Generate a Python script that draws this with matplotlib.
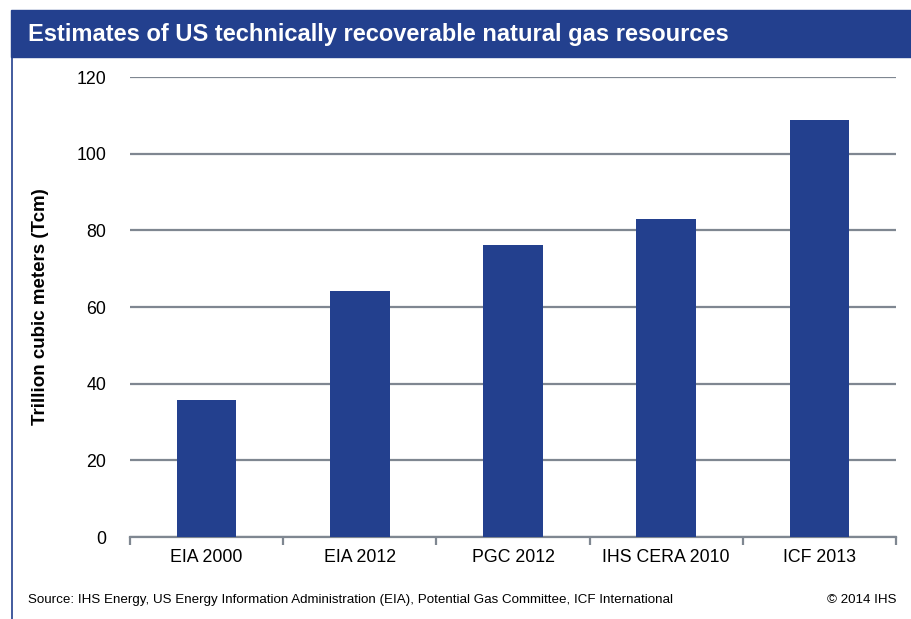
import numpy as np
import matplotlib.pyplot as plt
from matplotlib.patches import Rectangle
from matplotlib.lines import Line2D

plt.rcParams['font.family'] = ['Liberation Sans', 'DejaVu Sans']

categories = ['EIA 2000', 'EIA 2012', 'PGC 2012', 'IHS CERA 2010', 'ICF 2013']
values = [35.7, 64.3, 76.2, 83.0, 108.8]
yticks = [0, 20, 40, 60, 80, 100, 120]

blue = '#23408e'
grid = '#7f8791'

fig = plt.figure(figsize=(9.12, 6.19), dpi=100)
ax = fig.add_axes([130 / 912, 1 - 537 / 619, 766 / 912, 460 / 619])

x = np.arange(len(categories))
ax.bar(x, values, width=0.39, color=blue, zorder=3)
ax.set_xlim(-0.5, len(categories) - 0.5)
ax.set_ylim(0, 120)
ax.set_yticks(yticks)
ax.yaxis.grid(True, color=grid, linewidth=1.6, zorder=0)
ax.tick_params(axis='y', length=0, pad=17, labelsize=12.8)
ax.set_xticks(x)
ax.set_xticklabels(categories)
ax.set_xticks(np.arange(-0.5, len(categories)), minor=True)
ax.tick_params(axis='x', which='major', length=0, pad=9, labelsize=12.8)
ax.tick_params(axis='x', which='minor', length=6, width=1.6, color=grid, direction='out')
for s in ['top', 'right', 'left']:
    ax.spines[s].set_visible(False)
ax.spines['bottom'].set_color(grid)
ax.spines['bottom'].set_linewidth(1.6)
ax.set_ylabel('Trillion cubic meters (Tcm)', fontsize=13.5, fontweight='bold', labelpad=20)

# title bar and left border
fig.patches.append(Rectangle((11 / 912, 1 - 57 / 619), 1, 47 / 619, transform=fig.transFigure,
                             color=blue, zorder=0))
fig.lines.append(Line2D([12 / 912, 12 / 912], [0, 1 - 57 / 619], transform=fig.transFigure,
                        color=blue, linewidth=1.2))
fig.text(28 / 912, 1 - 34 / 619, 'Estimates of US technically recoverable natural gas resources',
         color='white', fontsize=17, fontweight='bold', va='center', ha='left')

fig.text(28 / 912, 1 - 600 / 619,
         'Source: IHS Energy, US Energy Information Administration (EIA), Potential Gas Committee, ICF International',
         fontsize=9.6, va='center', ha='left')
fig.text(897 / 912, 1 - 600 / 619, '© 2014 IHS', fontsize=9.6, va='center', ha='right')

plt.savefig('out.png', dpi=100)
